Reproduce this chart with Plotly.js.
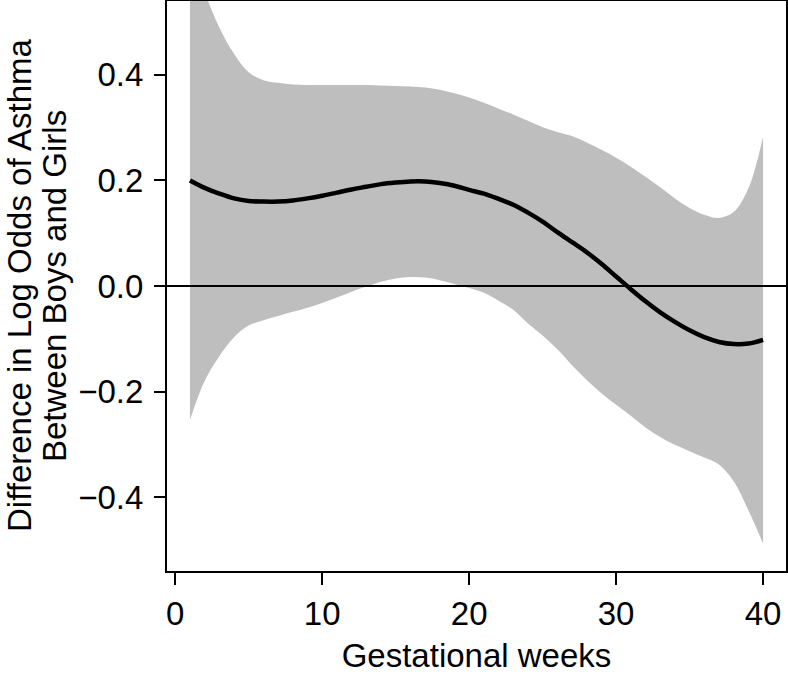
<!DOCTYPE html>
<html>
<head>
<meta charset="utf-8">
<script src="https://cdn.plot.ly/plotly-3.0.1.min.js"></script>
<style>html,body{margin:0;padding:0;background:#fff;}#chart{width:788px;height:674px;}</style>
</head>
<body>
<div id="chart"></div>
<script>
// Gestational week
const weeks = [1,2,3,4,5,6,7,8,9,10,11,12,13,14,15,16,17,18,19,20,21,22,23,24,25,26,27,28,29,30,31,32,33,34,35,36,37,38,39,40];
// Estimated difference in log odds (boys - girls)
const estimate = [0.200,0.186,0.175,0.166,0.161,0.160,0.160,0.162,0.166,0.171,0.177,0.183,0.188,0.193,0.196,0.198,0.198,0.195,0.190,0.182,0.175,0.165,0.154,0.139,0.122,0.102,0.083,0.064,0.042,0.018,-0.006,-0.029,-0.050,-0.068,-0.084,-0.097,-0.106,-0.110,-0.109,-0.102];
// Upper confidence bound
const upper = [0.700,0.560,0.490,0.440,0.405,0.390,0.385,0.382,0.381,0.381,0.381,0.381,0.381,0.380,0.379,0.378,0.376,0.372,0.365,0.357,0.347,0.336,0.325,0.313,0.301,0.292,0.284,0.272,0.258,0.243,0.226,0.207,0.187,0.166,0.148,0.135,0.129,0.140,0.185,0.283];
// Lower confidence bound
const lower = [-0.254,-0.180,-0.133,-0.097,-0.075,-0.065,-0.057,-0.049,-0.041,-0.032,-0.022,-0.011,-0.001,0.008,0.014,0.017,0.016,0.011,0.004,-0.004,-0.013,-0.028,-0.045,-0.071,-0.094,-0.120,-0.150,-0.178,-0.203,-0.225,-0.246,-0.268,-0.286,-0.301,-0.313,-0.325,-0.338,-0.370,-0.425,-0.488];
const xTicks = [0,10,20,30,40];
const yTicks = [-0.4,-0.2,0.0,0.2,0.4];
const yTitleLines = ['Difference in Log Odds of Asthma', 'Between Boys and Girls'];

const FONT = 'Liberation Sans, Arial, Helvetica, sans-serif';
const band = '#bebebe';

const traces = [
  {x: weeks, y: lower, type: 'scatter', mode: 'lines', line: {width: 0, color: band, shape: 'spline'}, hoverinfo: 'skip', showlegend: false},
  {x: weeks, y: upper, type: 'scatter', mode: 'lines', fill: 'tonexty', fillcolor: band, line: {width: 0, color: band, shape: 'spline'}, hoverinfo: 'skip', showlegend: false},
  {x: weeks, y: estimate, type: 'scatter', mode: 'lines', line: {width: 4.5, color: '#000', shape: 'spline'}, showlegend: false}
];

const layout = {
  width: 788, height: 674,
  margin: {l: 167, r: 2, t: 1, b: 103},
  paper_bgcolor: '#fff', plot_bgcolor: '#fff',
  font: {family: FONT, size: 33, color: '#000'},
  showlegend: false,
  xaxis: {
    range: [-0.56, 41.56], tickvals: xTicks, showgrid: false, zeroline: false,
    showline: true, mirror: true, linecolor: '#000', linewidth: 2,
    ticks: 'outside', ticklen: 12, tickwidth: 2, tickcolor: '#000',
    tickfont: {family: FONT, size: 33, color: '#000'},
    ticklabelstandoff: 0,
    title: {text: 'Gestational weeks', font: {family: FONT, size: 33, color: '#000'}, standoff: 13}
  },
  yaxis: {
    range: [-0.54, 0.54], tickvals: yTicks, tickformat: '.1f', showgrid: false, zeroline: false,
    showline: true, mirror: true, linecolor: '#000', linewidth: 2,
    ticks: 'outside', ticklen: 11, tickwidth: 2, tickcolor: '#000',
    tickfont: {family: FONT, size: 33, color: '#000'},
    ticklabelstandoff: 4
  },
  annotations: [
    {text: yTitleLines[0], xref: 'paper', yref: 'paper', x: 0, y: 0.5, xanchor: 'center', yanchor: 'middle', xshift: -148, textangle: -90, showarrow: false, font: {family: FONT, size: 33, color: '#000'}},
    {text: yTitleLines[1], xref: 'paper', yref: 'paper', x: 0, y: 0.5, xanchor: 'center', yanchor: 'middle', xshift: -113, textangle: -90, showarrow: false, font: {family: FONT, size: 33, color: '#000'}}
  ],
  shapes: [
    {type: 'line', xref: 'paper', x0: 0, x1: 1, yref: 'y', y0: 0, y1: 0, line: {color: '#000', width: 2}, layer: 'above'}
  ]
};

Plotly.newPlot('chart', traces, layout, {displayModeBar: false, staticPlot: true});
</script>
</body>
</html>
